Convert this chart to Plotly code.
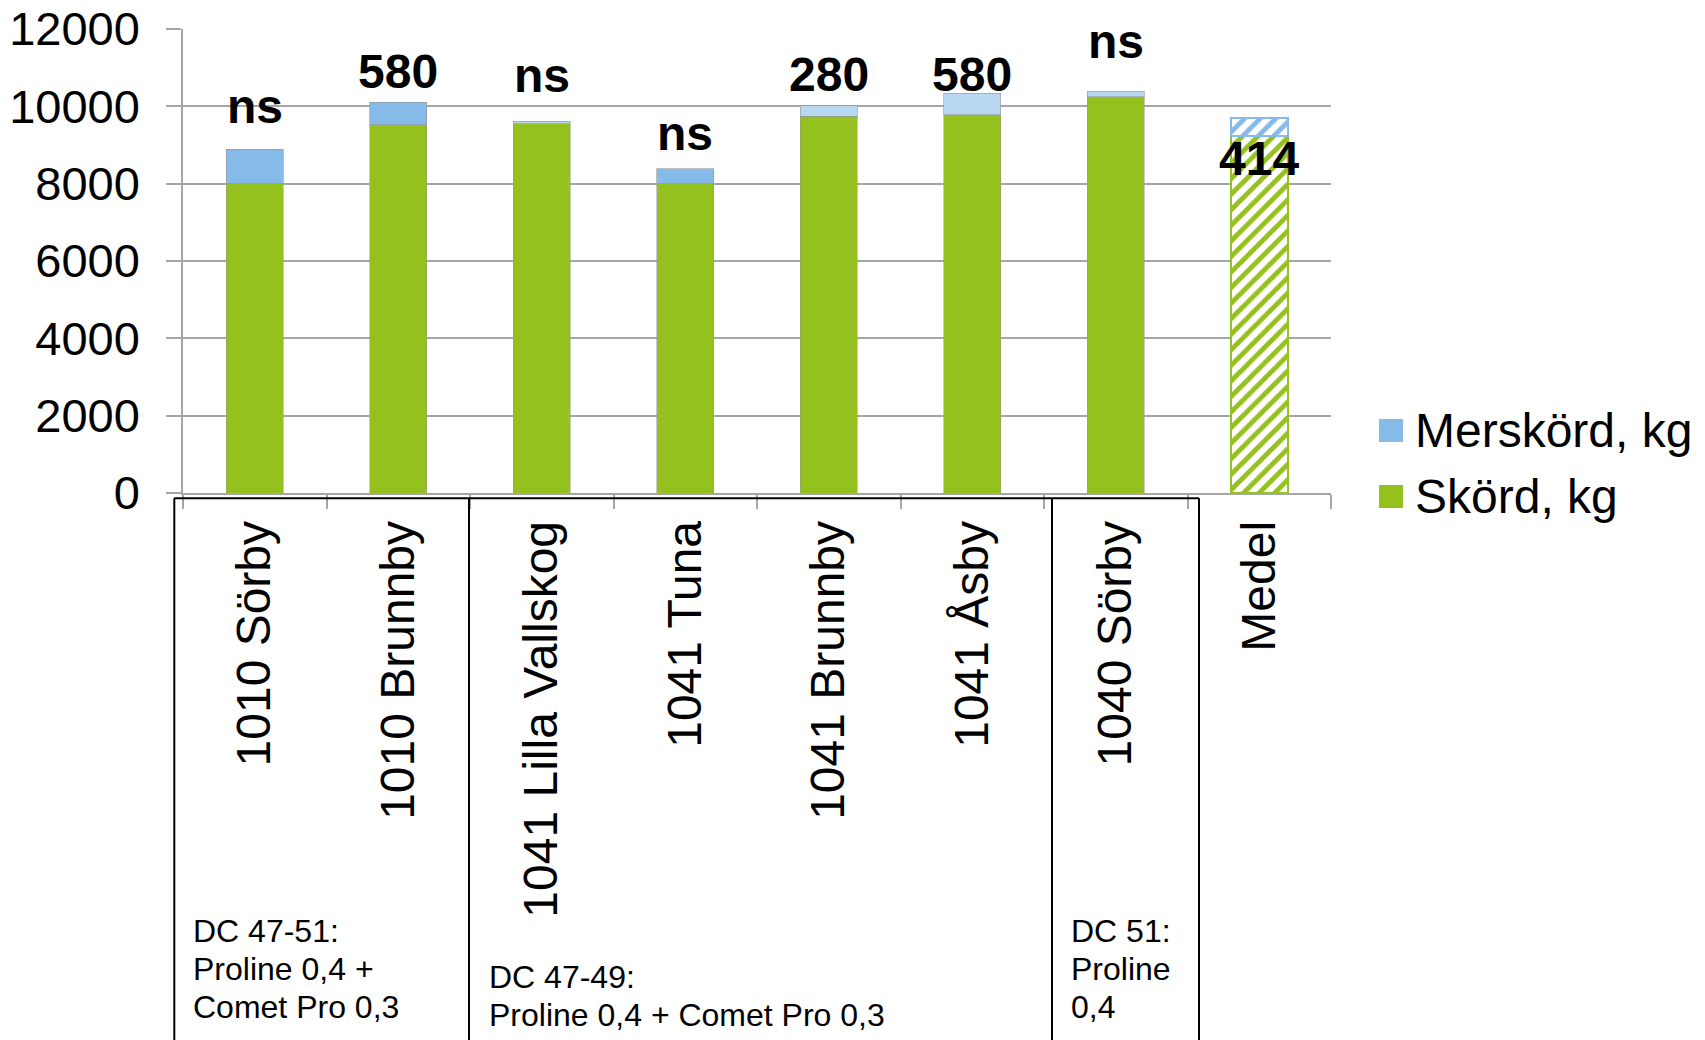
import plotly.graph_objects as go

# ---------------- data ----------------
categories = ["1010 Sörby", "1010 Brunnby", "1041 Lilla Vallskog", "1041 Tuna",
              "1041 Brunnby", "1041 Åsby", "1040 Sörby", "Medel"]
skord = [8000, 9520, 9550, 8000, 9740, 9780, 10250, 9240]          # Skörd, kg
merskord = [890, 580, 60, 390, 280, 555, 140, 470]                 # Merskörd, kg
sig_labels = ["ns", "580", "ns", "ns", "280", "580", "ns", "414"]
y_ticks = [0, 2000, 4000, 6000, 8000, 10000, 12000]
group_lines = [["DC 47-51:", "Proline 0,4 +", "Comet Pro 0,3"],
               ["DC 47-49:", "Proline 0,4 + Comet Pro 0,3"],
               ["DC 51:", "Proline", "0,4"]]

# ---------------- styles ----------------
FONT = "Liberation Sans, Arial, Helvetica, sans-serif"
GREEN = "#95C11F"
BLUE = "#86BAE8"
LIGHT = "#B8D8F1"
GRID = "#A6A6A6"
mer_colors = [BLUE, BLUE, LIGHT, BLUE, LIGHT, LIGHT, LIGHT, BLUE]
hatch = ["", "", "", "", "", "", "", "/"]
edge_w = [1, 1, 1, 1, 1, 1, 1, 2]
edge_skord = ["rgba(150,150,150,0.5)"] * 7 + [GREEN]
edge_mer = ["rgba(150,150,150,0.6)"] * 7 + [BLUE]
label_yshift = [43, 31, 46, 35, 31, 19, 50, -41]

OFF = 0  # page body margin removed by post_script
W, H = 1705, 1040
PW, PH = 1148, 464
L, T = 183 - OFF, 29 - OFF
R, B = W - L - PW, H - T - PH


def px_x(px):  # screen px -> paper
    return (px - OFF - L) / PW


def px_y(py):
    return (T + PH - (py - OFF)) / PH


fig = go.Figure()
fig.add_trace(go.Bar(
    x=categories, y=skord, name="Skörd, kg",
    marker=dict(color=GREEN,
                line=dict(color=edge_skord, width=edge_w),
                pattern=dict(shape=hatch, fgcolor=GREEN, bgcolor="white",
                             size=11, solidity=0.45, fillmode="replace")),
    showlegend=False,
))
fig.add_trace(go.Bar(
    x=categories, y=merskord, name="Merskörd, kg",
    marker=dict(color=mer_colors,
                line=dict(color=edge_mer, width=edge_w),
                pattern=dict(shape=hatch, fgcolor=BLUE, bgcolor="white",
                             size=11, solidity=0.45, fillmode="replace")),
    showlegend=False,
))

annotations = []
for i, c in enumerate(categories):
    annotations.append(dict(
        x=c, y=skord[i] + merskord[i], xref="x", yref="y",
        text="<b>%s</b>" % sig_labels[i], showarrow=False,
        font=dict(family=FONT, size=48, color="black"),
        xanchor="center", yanchor="middle", yshift=label_yshift[i]))

# manual legend
shapes = []
legend_items = [("Merskörd, kg", BLUE, 419, 442), ("Skörd, kg", GREEN, 485, 508)]
for name, col, y0, y1 in legend_items:
    shapes.append(dict(type="rect", xref="paper", yref="paper",
                       x0=px_x(1379), x1=px_x(1403), y0=px_y(y1), y1=px_y(y0),
                       fillcolor=col, line=dict(width=0)))
    annotations.append(dict(x=px_x(1413), y=px_y((y0 + y1) / 2), xref="paper", yref="paper",
                            text=name, showarrow=False, xanchor="left", yanchor="middle",
                            font=dict(family=FONT, size=48, color="black")))

# table boxes below axis
box_top = 498.3
box_x = [174.3, 469, 1052, 1199]
shapes.append(dict(type="line", xref="paper", yref="paper",
                   x0=px_x(box_x[0]), x1=px_x(box_x[-1]), y0=px_y(box_top), y1=px_y(box_top),
                   line=dict(color="black", width=2)))
for bx in box_x:
    shapes.append(dict(type="line", xref="paper", yref="paper",
                       x0=px_x(bx), x1=px_x(bx), y0=px_y(box_top), y1=px_y(H + 20),
                       line=dict(color="black", width=2)))

# treatment texts, one annotation per line (screen px of first line centre)
group_pos = [(191, 931), (487, 977), (1069, 931)]
LINE_STEP = 38
for lines, (gx, gy) in zip(group_lines, group_pos):
    for k, line in enumerate(lines):
        annotations.append(dict(x=px_x(gx), y=px_y(gy + k * LINE_STEP), xref="paper", yref="paper",
                                text=line, showarrow=False, xanchor="left", yanchor="middle",
                                align="left", font=dict(family=FONT, size=32, color="black")))

fig.update_layout(
    width=W, height=H,
    margin=dict(l=L, r=R, t=T, b=B, pad=0, autoexpand=False),
    paper_bgcolor="white", plot_bgcolor="white",
    barmode="stack", bargap=0.6,
    showlegend=False,
    font=dict(family=FONT, color="black"),
    annotations=annotations, shapes=shapes,
    xaxis=dict(type="category", tickangle=-90, tickfont=dict(family=FONT, size=48, color="black"),
               ticks="outside", ticklen=14, tickwidth=1.5, tickcolor=GRID, tickson="boundaries",
               showline=True, linecolor=GRID, linewidth=1.5, showgrid=False,
               ticklabelstandoff=7, ticklabeloverflow="allow", fixedrange=True, automargin=False),
    yaxis=dict(range=[0, 12000], tickvals=y_ticks, tickformat="d",
               tickfont=dict(family=FONT, size=47, color="black"),
               ticks="outside", ticklen=15, tickwidth=1.5, tickcolor=GRID,
               showgrid=True, gridcolor=GRID, gridwidth=1.5, zeroline=False,
               showline=True, linecolor=GRID, linewidth=1.5,
               ticklabelstandoff=17, ticklabeloverflow="allow", fixedrange=True, automargin=False),
)

fig.write_html("out.html", config={"displayModeBar": False},
               post_script="document.body.style.margin='0';")
